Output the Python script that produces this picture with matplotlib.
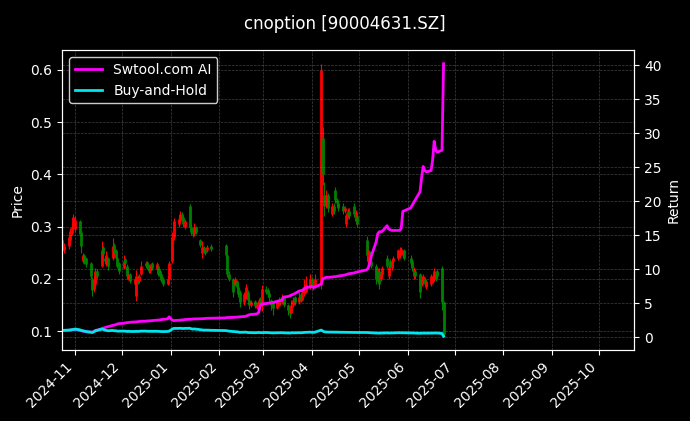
import matplotlib
matplotlib.use("Agg")
import matplotlib.pyplot as plt
import matplotlib.dates as mdates
import pandas as pd
import numpy as np

title = "cnoption [90004631.SZ]"
start_date = "2024-10-24"
end_date = "2025-06-24"
holidays = ["2025-01-01", "2025-01-28", "2025-01-29", "2025-01-30", "2025-01-31",
            "2025-02-03", "2025-02-04", "2025-04-04", "2025-05-01", "2025-05-02",
            "2025-05-05", "2025-06-02"]

open_ = [
    .275, .255, .262, .275, .288, .300, .295, .310, .290, .235, .245, .240, .230, .200, .180, .190, .215, .225, .260, .240, .228, .240, .240, .265, .255, .240, .230,
    .220, .238, .225, .200, .210, .190, .168, .205, .195, .210, .225, .232, .225, .215, .230, .218, .225, .215, .210, .200, .190, .200,
    .235, .280, .305, .310, .325, .318, .300, .340, .300, .295, .285, .300, .275, .250, .260, .255, .255, .262,
    .265, .245, .210, .200, .190, .195, .185, .175, .155, .165, .175, .160, .150, .158, .145, .150, .160, .150,
    .180, .178, .172, .160, .155, .145, .150, .160, .155, .165, .150, .140, .135, .150, .165, .155, .170, .160, .170, .175, .185,
    .200, .190, .185, .190, .470, .360, .340, .360, .325, .340, .370, .350, .345, .340, .330, .305, .320, .330, .340, .310, .320,
    .275, .235, .250, .235, .225, .195, .215, .200, .210, .240, .205, .235, .220, .235, .240, .245, .250, .245, .255,
    .240, .235, .205, .215, .210, .190, .195, .200, .185, .190, .195, .200, .210, .215, .220, .155,
]
close = [
    .255, .262, .280, .292, .300, .318, .312, .285, .262, .245, .232, .228, .205, .178, .200, .215, .205, .255, .248, .235, .245, .225, .262, .250, .240, .225, .215,
    .235, .230, .205, .210, .195, .200, .205, .195, .205, .225, .230, .220, .215, .225, .220, .228, .210, .205, .198, .190, .200, .230,
    .280, .310, .315, .325, .315, .305, .310, .300, .290, .285, .300, .290, .265, .260, .255, .250, .260, .258,
    .245, .210, .200, .175, .200, .185, .170, .155, .170, .185, .160, .150, .155, .148, .152, .160, .150, .180,
    .175, .170, .165, .150, .145, .155, .160, .155, .165, .150, .140, .135, .150, .160, .155, .165, .160, .170, .185, .190, .200,
    .190, .185, .200, .600, .400, .340, .360, .335, .340, .330, .350, .345, .335, .330, .335, .322, .330, .320, .325, .328, .305,
    .245, .255, .235, .225, .200, .215, .190, .210, .220, .225, .222, .225, .235, .240, .255, .255, .258, .252, .240,
    .230, .220, .218, .205, .175, .200, .205, .190, .195, .205, .205, .215, .200, .205, .155, .095,
]
high = [
    .280, .268, .286, .298, .308, .325, .320, .312, .292, .250, .248, .242, .232, .203, .205, .220, .218, .273, .262, .242, .254, .242, .279, .268, .258, .242, .232,
    .245, .240, .228, .214, .212, .204, .216, .208, .210, .235, .234, .234, .228, .228, .232, .232, .228, .218, .212, .204, .205, .235,
    .290, .316, .322, .330, .328, .320, .315, .343, .305, .298, .307, .302, .277, .273, .262, .258, .265, .266,
    .267, .248, .214, .202, .204, .198, .188, .178, .174, .190, .178, .162, .160, .160, .156, .164, .165, .188,
    .186, .182, .176, .162, .158, .158, .165, .163, .170, .168, .152, .144, .160, .165, .168, .175, .174, .178, .200, .205, .210,
    .204, .195, .210, .612, .490, .385, .370, .365, .345, .345, .375, .355, .350, .345, .340, .326, .335, .335, .345, .332, .322,
    .282, .265, .254, .240, .228, .220, .220, .214, .224, .245, .226, .238, .238, .244, .258, .260, .260, .256, .258,
    .245, .238, .222, .218, .212, .205, .210, .204, .198, .210, .208, .220, .214, .218, .225, .158,
]
low = [
    .248, .250, .258, .270, .284, .296, .290, .282, .250, .230, .228, .222, .200, .168, .175, .186, .200, .222, .244, .230, .225, .216, .236, .246, .236, .220, .210,
    .218, .226, .200, .198, .192, .188, .158, .190, .192, .208, .222, .218, .212, .212, .216, .215, .206, .202, .194, .186, .188, .198,
    .230, .275, .300, .306, .312, .300, .296, .295, .284, .280, .282, .286, .260, .240, .250, .246, .252, .254,
    .240, .203, .196, .165, .186, .180, .166, .146, .150, .162, .156, .143, .146, .144, .142, .146, .146, .138,
    .170, .166, .155, .140, .130, .142, .148, .150, .152, .146, .130, .125, .132, .146, .150, .152, .156, .158, .168, .172, .180,
    .186, .178, .182, .180, .380, .320, .335, .328, .320, .325, .345, .338, .330, .325, .326, .300, .316, .315, .318, .305, .300,
    .235, .225, .230, .220, .190, .192, .180, .196, .206, .220, .200, .220, .216, .230, .236, .240, .245, .240, .236,
    .226, .214, .200, .200, .163, .186, .190, .186, .180, .186, .192, .196, .196, .200, .140, .090,
]
ai_return = [
    1.00, 1.00, 1.02, 1.05, 1.08, 1.10, 1.15, 1.00, 0.95, 0.90, 0.85, 0.80, 0.75, 0.75, 0.85, 1.00, 1.05, 1.25, 1.35, 1.40, 1.50, 1.55, 1.75, 1.80, 1.85, 1.95, 2.00,
    2.05, 2.10, 2.15, 2.15, 2.20, 2.25, 2.25, 2.30, 2.30, 2.35, 2.35, 2.40, 2.40, 2.42, 2.45, 2.50, 2.52, 2.55, 2.60, 2.62, 2.70, 3.00,
    2.50, 2.45, 2.50, 2.50, 2.55, 2.55, 2.60, 2.65, 2.65, 2.68, 2.70, 2.70, 2.72, 2.72, 2.75, 2.75, 2.78, 2.80,
    2.85, 2.90, 2.90, 2.92, 2.95, 2.95, 2.98, 3.00, 3.05, 3.10, 3.20, 3.30, 3.35, 3.40, 3.45, 3.60, 4.60, 4.90,
    4.95, 5.00, 5.00, 5.05, 5.10, 5.30, 5.35, 5.40, 5.50, 5.90, 6.00, 6.10, 6.20, 6.30, 6.40, 6.80, 6.85, 6.90, 7.10, 7.30, 7.40,
    7.50, 7.30, 7.40, 7.80, 8.60, 8.70, 8.80, 8.80, 8.85, 8.90, 8.90, 8.95, 9.00, 9.10, 9.15, 9.20, 9.30, 9.35, 9.45, 9.55, 9.60,
    9.90, 10.20, 11.00, 12.00, 14.00, 15.20, 15.50, 15.50, 15.60, 16.40, 15.90, 15.80, 15.70, 15.70, 15.70, 15.70, 16.00, 18.50, 18.60,
    19.00, 19.40, 19.80, 20.20, 21.40, 23.50, 25.10, 24.50, 24.30, 24.50, 26.00, 28.80, 27.50, 27.20, 27.50, 40.20,
]
bh_return = [
    1.00, 1.02, 1.05, 1.08, 1.10, 1.15, 1.20, 1.10, 1.00, 0.95, 0.90, 0.85, 0.75, 0.70, 0.80, 0.95, 1.00, 1.20, 1.15, 1.05, 1.00, 0.95, 1.00, 0.95, 0.95, 0.90, 0.90,
    0.90, 0.90, 0.85, 0.88, 0.85, 0.85, 0.88, 0.85, 0.87, 0.90, 0.90, 0.88, 0.87, 0.88, 0.87, 0.88, 0.86, 0.85, 0.84, 0.83, 0.85, 0.90,
    1.20, 1.30, 1.30, 1.32, 1.30, 1.28, 1.30, 1.32, 1.25, 1.20, 1.22, 1.20, 1.10, 1.08, 1.05, 1.05, 1.05, 1.02,
    0.98, 0.95, 0.90, 0.85, 0.82, 0.80, 0.78, 0.72, 0.75, 0.75, 0.70, 0.68, 0.68, 0.66, 0.68, 0.70, 0.68, 0.67,
    0.70, 0.68, 0.66, 0.65, 0.64, 0.66, 0.67, 0.66, 0.67, 0.65, 0.63, 0.62, 0.65, 0.66, 0.65, 0.67, 0.66, 0.68, 0.70, 0.72, 0.75,
    0.72, 0.72, 0.75, 1.05, 0.90, 0.80, 0.78, 0.76, 0.76, 0.75, 0.76, 0.75, 0.74, 0.73, 0.73, 0.72, 0.72, 0.72, 0.70, 0.70, 0.70,
    0.70, 0.68, 0.66, 0.65, 0.62, 0.62, 0.60, 0.62, 0.62, 0.64, 0.62, 0.62, 0.63, 0.64, 0.66, 0.66, 0.67, 0.66, 0.65,
    0.64, 0.63, 0.62, 0.61, 0.58, 0.60, 0.61, 0.60, 0.60, 0.61, 0.62, 0.63, 0.62, 0.62, 0.55, 0.15,
]

dates = pd.bdate_range(start_date, end_date)
dates = dates[~dates.isin(pd.to_datetime(holidays))]

plt.style.use("dark_background")
fig = plt.figure(figsize=(6.9, 4.21), dpi=100)
ax1 = fig.add_axes([0.090, 0.169, 0.829, 0.712])
ax2 = ax1.twinx()

o = np.array(open_); c = np.array(close); h = np.array(high); l = np.array(low)
colors = np.where(c >= o, "#ff0000", "#008000")
ax1.vlines(dates, l, h, colors=colors, linewidth=0.8)
ax1.vlines(dates, np.minimum(o, c), np.maximum(o, c), colors=colors, linewidth=2.0)
ax1.set_ylabel("Price")

ax2.plot(dates, ai_return, color="#ff00ff", linewidth=2, label="Swtool.com AI")
ax2.plot(dates, bh_return, color="#00e5ee", linewidth=2, label="Buy-and-Hold")
ax2.set_ylabel("Return")
ax2.set_yticks(range(0, 41, 5))

ax1.set_xlim(pd.Timestamp("2024-10-23 18:00"), pd.Timestamp("2025-10-23 12:00"))
ax1.xaxis.set_major_locator(mdates.MonthLocator())
ax1.xaxis.set_major_formatter(mdates.DateFormatter("%Y-%m"))
for lab in ax1.get_xticklabels():
    lab.set_rotation(45)
    lab.set_ha("right")

ax1.grid(True, linestyle="--", linewidth=0.5, color="gray", alpha=0.5)
ax2.grid(True, linestyle="--", linewidth=0.5, color="gray", alpha=0.5)

leg = ax2.legend(loc="upper left", facecolor="black", edgecolor="white")
fig.suptitle(title, fontsize=12, y=0.965)

fig.savefig("out.png", dpi=100)
